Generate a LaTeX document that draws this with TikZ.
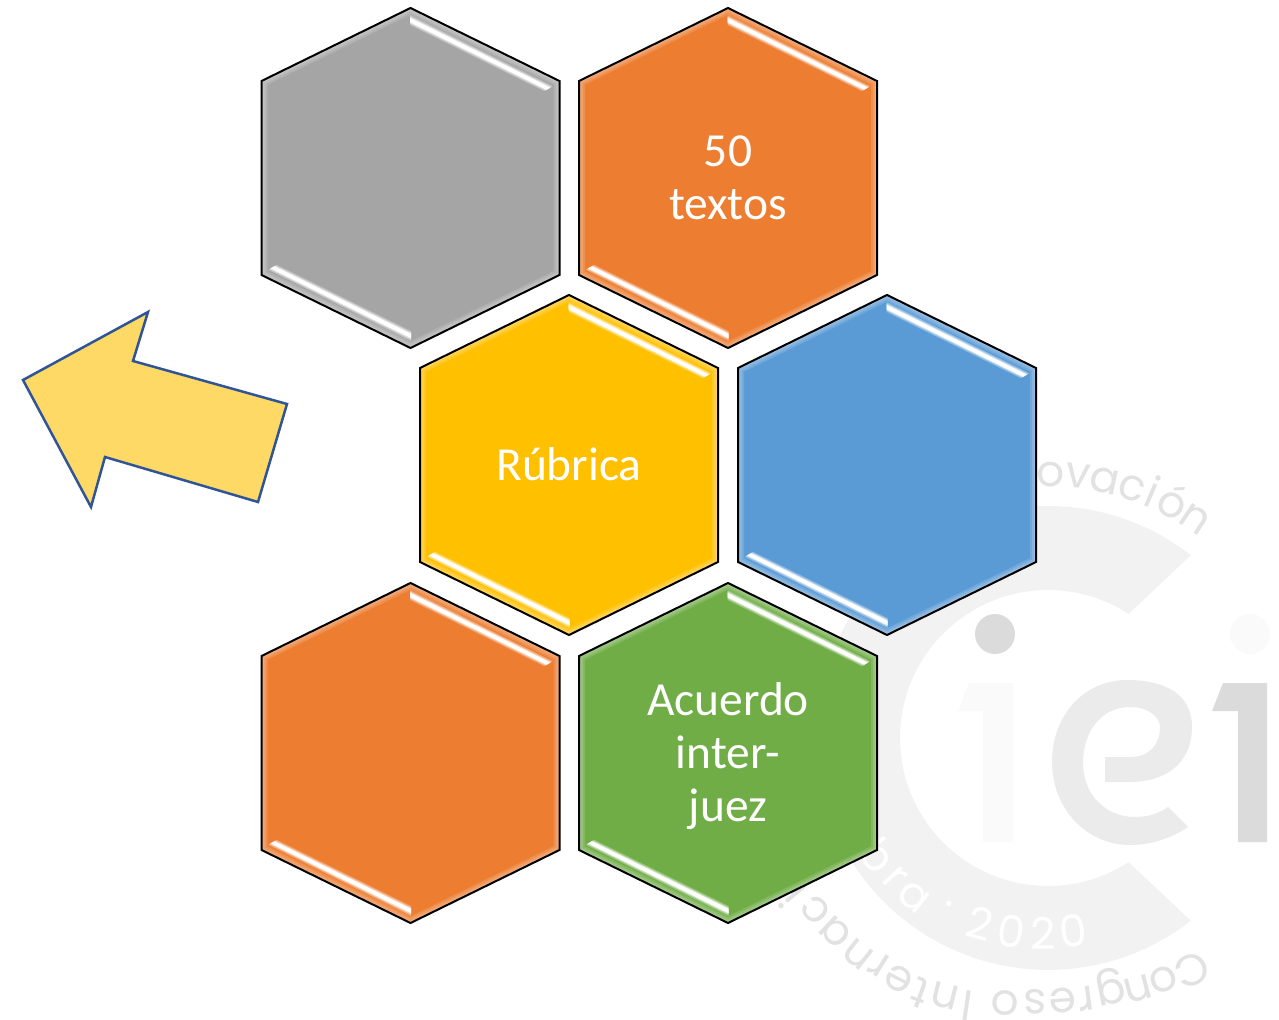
\documentclass[tikz,border=0pt]{standalone}
\usepackage{fontspec}
\setmainfont{Carlito}
\newfontfamily\wmfont{Poppins}
\usetikzlibrary{calc}
\definecolor{hexgrey}{HTML}{A5A5A5}
\definecolor{hexorange}{HTML}{ED7D31}
\definecolor{hexyellow}{HTML}{FFC000}
\definecolor{hexblue}{HTML}{5B9BD5}
\definecolor{hexgreen}{HTML}{70AD47}
\definecolor{arrowfill}{HTML}{FFD966}
\definecolor{arrowline}{HTML}{2F5597}
\definecolor{ringgrey}{HTML}{F2F2F2}
\definecolor{wmgrey}{HTML}{E2E2E2}
\newcommand{\hexpath}{(0,170) -- (149,97) -- (149,-97) -- (0,-170) -- (-149,-97) -- (-149,97) -- cycle}
\tikzset{
  hexlabel/.style={text=white,align=center,inner sep=0pt,font=\fontsize{27}{30}\selectfont},
  wmletter/.style={inner sep=0pt,text height=1.5ex,text depth=0.2ex,font=\wmfont\fontsize{25}{30}\selectfont},
}
\begin{document}
\begin{tikzpicture}[x=0.02cm,y=0.02cm]
  \useasboundingbox (0,0) rectangle (1279,1019);
  \coordinate (ringc) at (1048,281);
  \fill[ringgrey] ($(ringc)+(52:232)$) arc[start angle=52,end angle=308,radius=4.64cm]
    -- ($(ringc)+(-57:148)$) arc[start angle=-57,end angle=-303,radius=2.96cm] -- cycle;
  \fill[white!98!black] (958,308) -- (969,336) -- (1013,336) -- (1013,177) -- (983,177) -- (983,308) -- cycle;
  \fill[white!98!black] (1250,385) circle (20);
  \fill[black!14] (995,385) circle (20);
  \fill[black!14] (1212,308) -- (1223,336) -- (1267,336) -- (1267,177) -- (1238,177) -- (1238,308) -- cycle;
  \fill[black!8] (1188,192) .. controls (1170,180) and (1150,174) .. (1130,174)
    .. controls (1085,174) and (1052,212) .. (1052,257)
    .. controls (1052,305) and (1085,339) .. (1127,339)
    .. controls (1165,339) and (1192,325) .. (1192,292)
    .. controls (1192,255) and (1165,237) .. (1130,237) -- (1105,237) -- (1105,262) -- (1130,262)
    .. controls (1150,262) and (1160,275) .. (1160,292)
    .. controls (1160,302) and (1148,312) .. (1130,312)
    .. controls (1102,312) and (1083,288) .. (1083,256)
    .. controls (1083,225) and (1105,202) .. (1135,202)
    .. controls (1147,202) and (1158,205) .. (1168,212) -- cycle;
  \begin{scope}[shift={(ringc)}]
    \foreach \ch/\ang [count=\i] in {o/89.5,v/83.5,a/77.7,c/71.5,i/67,ó/62,n/56.2} {
      \node[wmletter,text=wmgrey,name=arcup\i,rotate=\ang-90] at (\ang:257) {\ch};
    }
  \end{scope}
  \foreach \ch/\px/\py/\rot [count=\i] in {C/1188/58/203,o/1161/46/200,n/1136/37/195,g/1110/33/191,
    r/1085/27/188,e/1062/25/184,s/1035/24/181,o/1005/23/178,I/968/23/172,n/947/30/166,t/923/35/160,
    e/902/46/153,r/883/60/148,n/862/70/142,a/840/92/137,c/820/114/133,i/801/129/130} {
    \node[wmletter,text=wmgrey,name=arcdown\i,rotate=\rot] at (\px,\py) {\ch};
  }
  \foreach \ch/\px/\py/\rot [count=\i] in {b/870/157/-52,r/890/136/-47,a/910/117/-38,·/945/106/-25,
    2/977/85/-16,0/1010/77/-8,2/1043/75/0,0/1075/78/7} {
    \node[wmletter,text=white,name=arcyear\i,rotate=\rot] at (\px,\py) {\ch};
  }
  \draw[arrowline,fill=arrowfill,line width=0.05cm,line join=miter]
    (23,639) -- (148,707) -- (133,658) -- (287,615) -- (258,517) -- (105,562) -- (91,512) -- cycle;
  \foreach \name/\cx/\cy/\col/\dy/\txt in {
    hexa/410.5/841/hexgrey/0/{},
    hexb/728/841/hexorange/0/{50\\textos},
    hexc/569/554/hexyellow/1/{Rúbrica},
    hexd/887/554/hexblue/0/{},
    hexe/410.5/266/hexorange/0/{},
    hexf/728/266/hexgreen/-3/{Acuerdo\\inter-\\juez}} {
    \begin{scope}[shift={(\cx,\cy)}]
      \fill[\col] \hexpath;
      \begin{scope}
        \clip \hexpath;
        \foreach \w in {0.24,0.16,0.08} {
          \draw[white,opacity=0.14,line width=\w cm] \hexpath;
        }
        \foreach \rot in {0,180} {
          \foreach \h/\mix in {5/70,3.5/35,2.2/0} {
            \fill[rotate=\rot,\col!\mix!white] (-0.5,158+\h) -- (-0.5,158-\h)
              -- (138-0.84*\h,89.3-0.5*\h) -- (138+0.84*\h,89.3+0.5*\h) -- cycle;
          }
        }
      \end{scope}
      \draw[black,line width=0.04cm,line join=miter] \hexpath;
      \node[hexlabel] (\name) at (0,\dy) {\txt};
    \end{scope}
  }
\end{tikzpicture}
\end{document}
